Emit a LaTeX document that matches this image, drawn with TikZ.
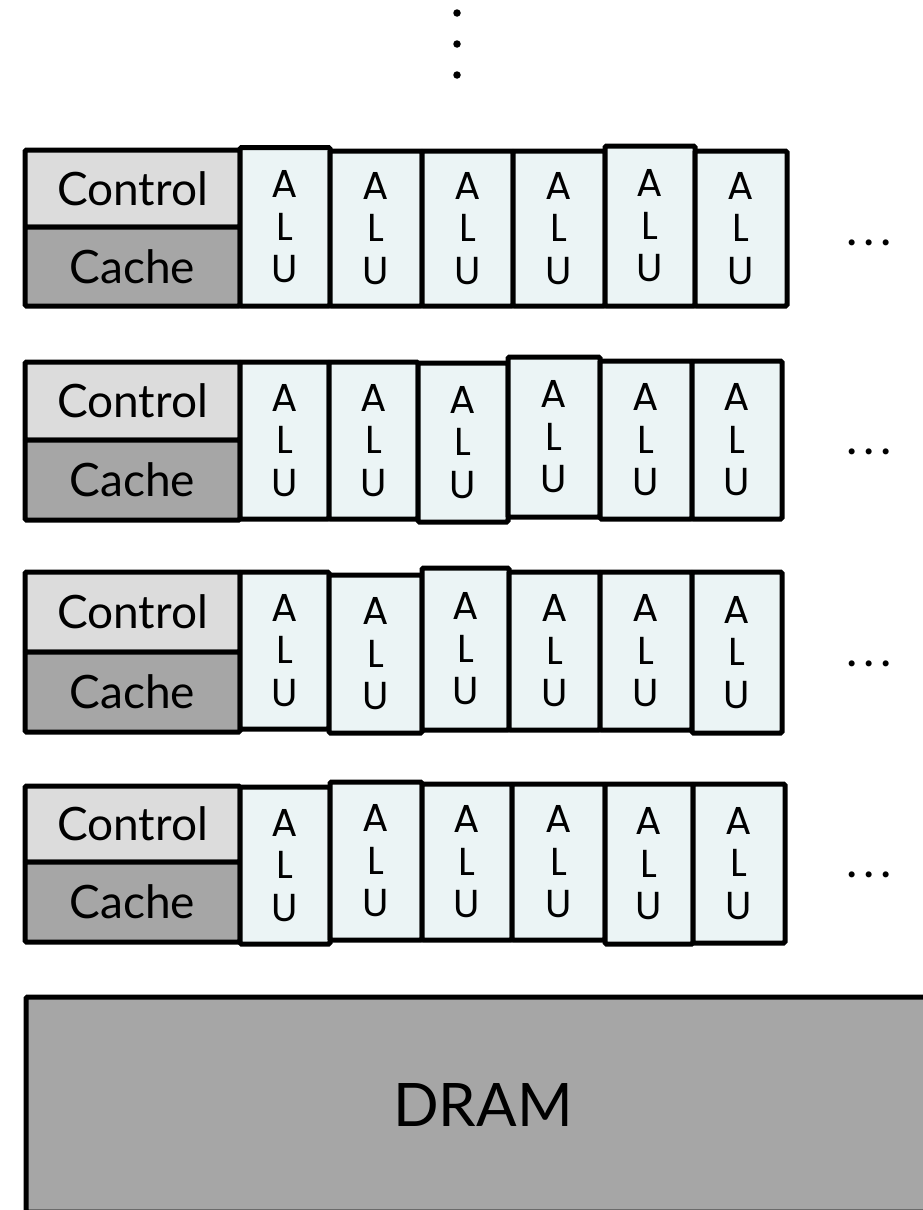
\documentclass[tikz,border=0pt]{standalone}
\usepackage{fontspec}
\setmainfont{Lato}
\newfontfamily\alufont{Poppins}
\definecolor{ctrlgray}{HTML}{DCDCDC}
\definecolor{cachegray}{HTML}{A6A6A6}
\definecolor{alufill}{HTML}{EBF4F5}
\definecolor{dramgray}{HTML}{A6A6A6}
\newcommand\mkbox[7]{%
  \pgfmathsetmacro\bxX{(#3+#5)/2}%
  \pgfmathsetmacro\bxY{(#4+#6)/2}%
  \pgfmathsetmacro\bxW{#5-#3}%
  \pgfmathsetmacro\bxH{#6-#4}%
  \node[#1, minimum width=\bxW pt, minimum height=\bxH pt] (#2) at (\bxX,\bxY) {#7};%
}
\newcommand\alu[5]{\mkbox{alubox}{#1}{#2}{#3}{#4}{#5}{A\\L\\U}}
\begin{document}
\begin{tikzpicture}[x=1pt,y=-1pt,
  boxbase/.style={draw=black, line width=5pt, rounded corners=1.5pt, inner sep=0pt, outer sep=0pt},
  ctrlbox/.style={boxbase, fill=ctrlgray, font=\fontsize{46}{50}\selectfont},
  cachebox/.style={boxbase, fill=cachegray, font=\fontsize{46}{50}\selectfont},
  alubox/.style={boxbase, fill=alufill, align=center, font=\alufont\fontsize{39}{42.5}\selectfont},
  drambox/.style={boxbase, fill=dramgray, font=\fontsize{60}{64}\selectfont},
  hdots/.style={anchor=base, inner sep=0pt, font=\fontsize{48}{50}\selectfont},
  vdot/.style={circle, fill=black, inner sep=0pt, minimum size=7.5pt}
]
\useasboundingbox (0,0) rectangle (922,1210);

% vertical dots
\node[vdot] (v1) at (457,13) {};
\node[vdot] (v2) at (457,44) {};
\node[vdot] (v3) at (457,75) {};

% Row 1
\mkbox{ctrlbox}{ctrl1}{25}{150}{240}{227}{Control}
\mkbox{cachebox}{cache1}{25}{227}{240}{306}{Cache}
\alu{a11}{240}{147.5}{330}{306}
\alu{a12}{330}{151}{422}{306}
\alu{a13}{422}{151}{513}{306}
\alu{a14}{513}{151}{605}{306}
\alu{a15}{605}{146}{695}{306}
\alu{a16}{695}{151}{787}{306}
\node[hdots] (d1) at (869,245.5) {.\kern6pt.\kern6pt.};

% Row 2
\mkbox{ctrlbox}{ctrl2}{25}{362}{240}{440}{Control}
\mkbox{cachebox}{cache2}{25}{440}{240}{520}{Cache}
\alu{a21}{240}{362}{329}{519}
\alu{a22}{329}{362}{418}{519}
\alu{a23}{418}{363}{508}{522}
\alu{a24}{508}{357}{600}{517}
\alu{a25}{600}{361}{692}{519}
\alu{a26}{692}{361}{782}{519}
\node[hdots] (d2) at (869,454.5) {.\kern6pt.\kern6pt.};

% Row 3
\mkbox{ctrlbox}{ctrl3}{25}{572}{240}{652}{Control}
\mkbox{cachebox}{cache3}{25}{652}{240}{732}{Cache}
\alu{a31}{240}{572}{329}{729}
\alu{a32}{329}{575}{422}{733}
\alu{a33}{422}{568}{509}{730}
\alu{a34}{509}{572}{600}{730}
\alu{a35}{600}{572}{692}{730}
\alu{a36}{692}{572}{782}{733}
\node[hdots] (d3) at (869,666.5) {.\kern6pt.\kern6pt.};

% Row 4
\mkbox{ctrlbox}{ctrl4}{25}{786}{240}{862}{Control}
\mkbox{cachebox}{cache4}{25}{862}{240}{942}{Cache}
\alu{a41}{240}{787}{330}{944}
\alu{a42}{330}{782}{422}{940}
\alu{a43}{422}{784}{512}{940}
\alu{a44}{512}{784}{605}{940}
\alu{a45}{605}{784}{693}{944}
\alu{a46}{693}{784}{785}{943}
\node[hdots] (d4) at (869,877.5) {.\kern6pt.\kern6pt.};

% DRAM
\mkbox{drambox}{dram}{26}{997}{940}{1212}{DRAM}
\end{tikzpicture}
\end{document}
